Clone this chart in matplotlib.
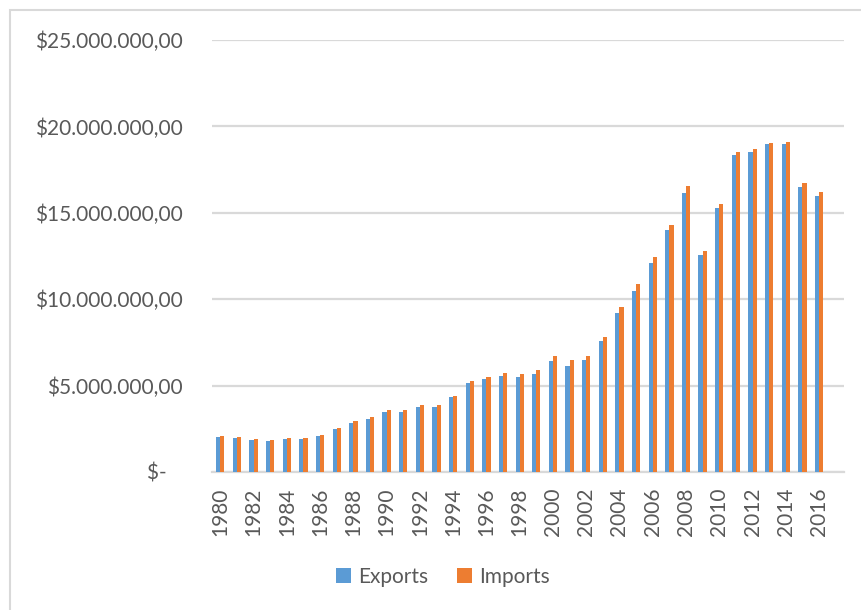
import numpy as np
import matplotlib
matplotlib.use('Agg')
import matplotlib.pyplot as plt
from matplotlib.ticker import FuncFormatter, MultipleLocator
from matplotlib.patches import Rectangle

## data (values in millions of dollars)
years = list(range(1980, 2017))
exports = [2.03, 1.97, 1.85, 1.79, 1.91, 1.91, 2.08, 2.49, 2.85, 3.07,
           3.45, 3.47, 3.76, 3.79, 4.32, 5.13, 5.38, 5.56, 5.48, 5.69,
           6.44, 6.15, 6.48, 7.58, 9.20, 10.49, 12.11, 14.00, 16.15, 12.54,
           15.30, 18.34, 18.50, 18.96, 19.00, 16.49, 15.99]
imports = [2.07, 2.03, 1.91, 1.85, 1.99, 1.99, 2.16, 2.55, 2.93, 3.18,
           3.57, 3.59, 3.86, 3.88, 4.40, 5.27, 5.50, 5.71, 5.65, 5.90,
           6.70, 6.46, 6.71, 7.83, 9.55, 10.86, 12.44, 14.31, 16.55, 12.79,
           15.49, 18.50, 18.71, 19.04, 19.10, 16.72, 16.22]

BLUE = '#5B9BD5'
ORANGE = '#ED7D31'
GRID = '#D9D9D9'
TXT = '#595959'

plt.rcParams['font.family'] = ['Lato', 'DejaVu Sans']

fig = plt.figure(figsize=(8.61, 6.10), dpi=100)
ax = fig.add_axes([212/861, 1-472/610, 632/861, 432/610])

x = np.arange(len(years))
ex = np.array(exports)*1e6
im = np.array(imports)*1e6
w = 0.25
ax.bar(x-w/2, ex, w, color=BLUE, label='Exports', zorder=3)
ax.bar(x+w/2, im, w, color=ORANGE, label='Imports', zorder=3)

ax.set_xlim(-0.5, len(years)+0.5)
ax.set_ylim(0, 25e6)
ax.yaxis.set_major_locator(MultipleLocator(5e6))

def fmt(v, pos):
    if v == 0:
        return '$-   '
    s = '{:,.2f}'.format(v)
    s = s.replace(',', 'X').replace('.', ',').replace('X', '.')
    return '$' + s
ax.yaxis.set_major_formatter(FuncFormatter(fmt))

ax.set_xticks(x[::2])
ax.set_xticklabels([str(y) for y in years[::2]], rotation=90)

ax.grid(axis='y', color=GRID, linewidth=1.6, zorder=0)
for s in ['top', 'right', 'left']:
    ax.spines[s].set_visible(False)
ax.spines['bottom'].set_color(GRID)
ax.spines['bottom'].set_linewidth(1.6)
ax.tick_params(axis='both', length=0, labelsize=15, labelcolor=TXT)
ax.tick_params(axis='y', pad=21)
ax.tick_params(axis='x', pad=11)

leg = fig.legend(loc='center', bbox_to_anchor=(443/861, 1-577/610), ncol=2,
                 frameon=False, fontsize=15, handlelength=0.7, handleheight=0.7,
                 handletextpad=0.35, columnspacing=1.4, labelcolor=TXT)

# outer chart border (cropped at right and bottom)
fig.patches.append(Rectangle((9.5/861, -0.1), 1.2, 1.1-10/610, transform=fig.transFigure,
                             fill=False, edgecolor=GRID, linewidth=1.5))

fig.savefig('out.png', dpi=100)
